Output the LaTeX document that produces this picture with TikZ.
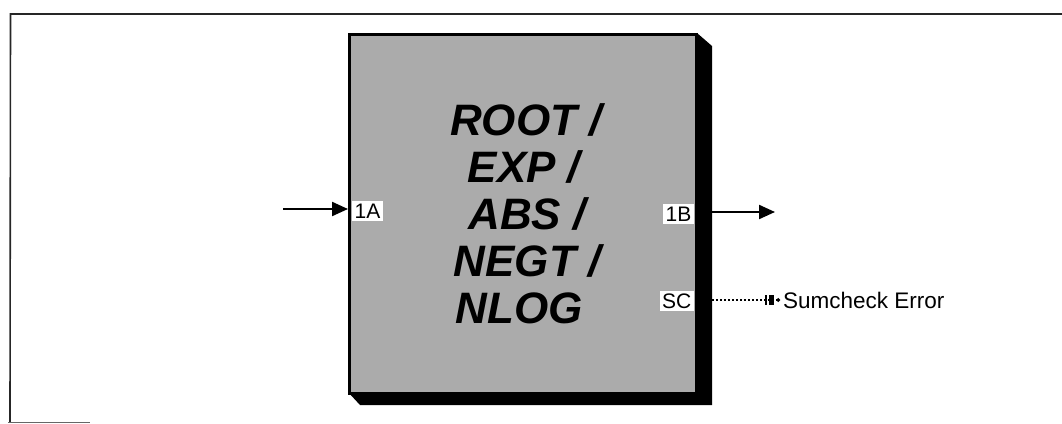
\documentclass[tikz,border=0pt]{standalone}
\usepackage{fontspec}
\setmainfont{Liberation Sans}
\usetikzlibrary{arrows.meta}
\begin{document}
\begin{tikzpicture}[x=1pt,y=-1pt,
  frameline/.style={line width=1.6pt,black!85},
  portlbl/.style={fill=white,inner xsep=2.5pt,inner ysep=2.5pt,font=\fontsize{21}{23}\selectfont},
  bigtxt/.style={anchor=base,inner sep=0pt,font=\fontsize{44}{47}\selectfont\bfseries\itshape},
  flow/.style={line width=2.2pt,-{Triangle[length=16pt,width=14pt]}},
]
\useasboundingbox (0,0) rectangle (1062,423);
% outer frame
\draw[frameline] (1062,14) -- (10.5,14) -- (10,422);
\draw[line width=1pt,black!60] (8,422) -- (90,422);
% shadow
\fill[black] (348,392) -- (360,405) -- (712,405) -- (712,46) -- (697,33) -- cycle;
% block
\node[draw=black,line width=3pt,fill=black!33,minimum width=347pt,minimum height=359pt,inner sep=0pt,anchor=north west] (blk) at (348,33) {};
% main text
\node[bigtxt] (l1) at (526,135) {ROOT /};
\node[bigtxt] (l2) at (524,182) {EXP /};
\node[bigtxt] (l3) at (527,229) {ABS /};
\node[bigtxt] (l4) at (527,276) {NEGT /};
\node[bigtxt] (l5) at (519,323) {NLOG};
% ports
\node[portlbl,anchor=base west] (p1a) at (352,218) {1A};
\node[portlbl,anchor=base east] (p1b) at (694,221) {1B};
\node[portlbl,anchor=base east] (psc) at (694,308) {SC};
\node[anchor=base west,inner sep=3pt,font=\fontsize{22.5}{25}\selectfont] (err) at (780,308) {Sumcheck Error};
% connectors
\coordinate (inA) at (283,209);
\coordinate (outB) at (775,212);
\coordinate (outS) at (712,212);
\coordinate (scout) at (712,300);
\draw[flow] (inA) -- (inA -| blk.west);
\draw[flow] (outS) -- (outB);
\draw[line width=1.6pt,dash pattern=on 1.6pt off 2.4pt,
  -{Bar[width=10pt,line width=1.8pt,sep=2pt] Rectangle[length=4.5pt,width=10pt,sep=3pt] Circle[length=3.5pt]}]
  (scout) -- (scout -| err.west);
\end{tikzpicture}
\end{document}
